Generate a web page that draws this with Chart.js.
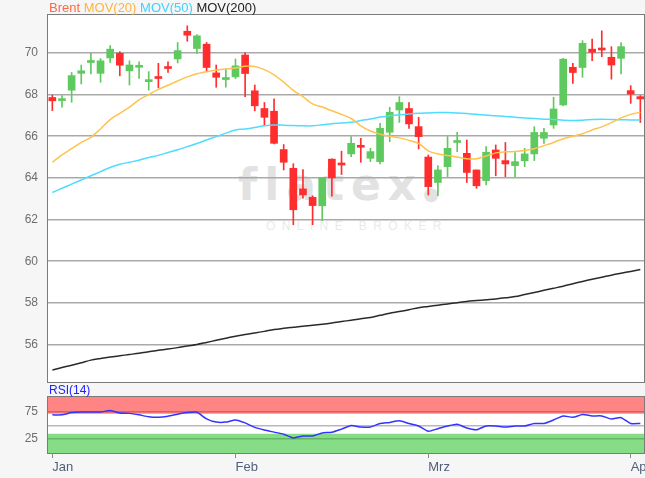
<!DOCTYPE html>
<html>
<head>
<meta charset="utf-8">
<script src="https://cdn.jsdelivr.net/npm/chart.js@4.4.1/dist/chart.umd.min.js"></script>
<style>
  body { margin: 0; background: #f6f6f6; font-family: "Liberation Sans", Arial, sans-serif; }
  #wrap { position: relative; width: 645px; height: 478px; overflow: hidden; }
  .plotbg { position: absolute; background: #fff; border: 1px solid #7b7b7b; box-sizing: border-box; }
  canvas { position: absolute; left: 0; }
  #legend { position: absolute; left: 49px; top: 0; font-size: 13px; line-height: 16px; white-space: pre; }
  #rsiTitle { position: absolute; left: 49px; top: 383px; font-size: 12px; line-height: 15px; color: #2222ff; }
  .wm { position: absolute; white-space: pre; color: #e2e2e2; }
  #wmLogo { left: 238px; top: 163px; font-family: "DejaVu Sans", sans-serif; font-size: 44px; line-height: 44px; font-weight: bold; letter-spacing: 7px; }
  #wmSub { left: 266px; top: 220px; font-size: 12px; line-height: 12px; letter-spacing: 6.4px; color: #eaeaea; }
</style>
</head>
<body>
<div id="wrap">
  <div class="plotbg" id="mainBg"></div>
  <div class="wm" id="wmLogo">flatex<span style="font-size:18px;letter-spacing:0">●</span></div>
  <div class="wm" id="wmSub">ONLINE BROKER</div>
  <canvas id="main" width="645" height="382" style="top:0"></canvas>
  <div class="plotbg" id="rsiBg"></div>
  <canvas id="rsi" width="645" height="94" style="top:384px"></canvas>
  <div id="legend"><span style="color:#ff6a45">Brent</span> <span style="color:#ffb43c">MOV(20)</span> <span style="color:#3fd2ff">MOV(50)</span> <span style="color:#222">MOV(200)</span></div>
  <div id="rsiTitle">RSI(14)</div>
</div>
<script>
const opens = [67.86, 67.71, 68.21, 69.02, 69.54, 69.02, 69.76, 69.98, 69.14, 69.31,
  68.62, 68.86, 69.33, 69.71, 71.04, 70.21, 70.42, 69.04, 68.72, 68.85,
  69.90, 68.18, 67.33, 67.20, 65.36, 64.46, 63.47, 63.07, 62.66, 64.90,
  64.66, 65.15, 65.55, 64.94, 64.78, 66.19, 67.26, 67.33, 66.46, 65.00,
  63.78, 64.54, 65.70, 65.18, 64.38, 63.87, 65.34, 64.83, 64.59, 64.82,
  65.15, 65.90, 66.54, 67.50, 69.31, 69.30, 70.18, 70.21, 69.79, 69.74,
  68.19, 67.90];
const highs = [67.98, 67.95, 69.06, 69.42, 69.98, 69.73, 70.35, 70.06, 69.62, 69.57,
  69.10, 69.50, 69.57, 70.50, 71.30, 70.88, 70.50, 69.42, 69.22, 69.71,
  70.00, 68.46, 67.62, 67.79, 65.60, 64.68, 64.40, 63.14, 64.02, 64.91,
  65.28, 65.98, 65.90, 65.42, 66.62, 67.39, 67.90, 67.62, 66.91, 65.10,
  64.59, 65.98, 66.19, 65.82, 64.38, 65.50, 65.58, 65.70, 65.22, 65.42,
  66.46, 66.38, 67.87, 69.74, 69.50, 70.59, 70.66, 71.06, 70.30, 70.50,
  68.43, 67.95];
const lows = [67.23, 67.39, 67.63, 68.51, 68.99, 68.59, 69.54, 68.90, 68.46, 68.77,
  68.21, 68.32, 69.06, 69.52, 70.56, 69.98, 69.10, 68.35, 68.35, 68.77,
  67.90, 67.22, 66.50, 65.63, 64.38, 61.75, 63.02, 61.75, 61.95, 63.12,
  64.16, 65.02, 64.75, 64.78, 64.67, 65.74, 66.66, 66.38, 65.39, 63.18,
  63.15, 64.06, 65.26, 63.78, 63.50, 63.66, 64.10, 64.06, 64.06, 64.54,
  64.83, 65.66, 66.38, 67.46, 68.54, 68.83, 69.63, 69.82, 68.74, 68.99,
  67.58, 66.66];
const closes = [67.70, 67.79, 68.91, 69.14, 69.58, 69.62, 70.18, 69.41, 69.42, 69.38,
  68.70, 68.77, 69.25, 70.11, 70.85, 70.82, 69.30, 68.83, 68.82, 69.38,
  69.01, 67.46, 66.91, 65.66, 64.75, 62.47, 63.18, 62.67, 64.02, 64.00,
  64.62, 65.66, 65.47, 65.26, 66.38, 67.15, 67.62, 66.59, 65.98, 63.58,
  64.38, 65.42, 65.78, 64.26, 63.62, 65.23, 64.94, 64.67, 64.78, 65.15,
  66.18, 66.18, 67.31, 69.70, 69.06, 70.46, 70.03, 70.14, 69.42, 70.30,
  68.02, 67.79];
const mov20 = [64.75, 65.1, 65.4, 65.7, 65.95, 66.35, 66.8, 67.1, 67.4, 67.75,
  68.0, 68.25, 68.45, 68.65, 68.85, 69.0, 69.1, 69.18, 69.23, 69.28,
  69.36, 69.35, 69.2, 68.95, 68.6, 68.2, 67.9, 67.55, 67.4, 67.22,
  67.05, 66.85, 66.5, 66.25, 66.1, 66.0, 65.92, 65.8, 65.65, 65.3,
  65.15, 65.07, 65.0, 64.92, 64.92, 65.05, 65.2, 65.25, 65.27, 65.32,
  65.4, 65.55, 65.7, 65.88, 66.0, 66.12, 66.3, 66.45, 66.65, 66.88,
  67.05, 67.15];
const mov50 = [63.3, 63.5, 63.7, 63.9, 64.1, 64.3, 64.5, 64.65, 64.75, 64.85,
  64.98, 65.08, 65.22, 65.35, 65.5, 65.65, 65.82, 65.98, 66.15, 66.3,
  66.35, 66.42, 66.5, 66.54, 66.53, 66.51, 66.5, 66.5, 66.55, 66.6,
  66.63, 66.67, 66.75, 66.83, 66.92, 66.98, 67.03, 67.07, 67.1, 67.12,
  67.14, 67.14, 67.12, 67.09, 67.05, 67.02, 66.98, 66.95, 66.91, 66.88,
  66.85, 66.82, 66.8, 66.77, 66.75, 66.77, 66.8, 66.82, 66.8, 66.79,
  66.78, 66.78];
const mov200 = [54.77, 54.9, 55.0, 55.12, 55.25, 55.33, 55.4, 55.46, 55.52, 55.58,
  55.65, 55.72, 55.78, 55.85, 55.93, 56.0, 56.1, 56.2, 56.3, 56.4,
  56.48, 56.55, 56.63, 56.72, 56.78, 56.83, 56.88, 56.92, 56.97, 57.03,
  57.1, 57.17, 57.24, 57.3, 57.4, 57.5, 57.58, 57.67, 57.77, 57.83,
  57.89, 57.95, 58.01, 58.07, 58.11, 58.15, 58.19, 58.24, 58.3, 58.4,
  58.5, 58.6, 58.7, 58.8, 58.92, 59.03, 59.13, 59.23, 59.33, 59.42,
  59.51, 59.6];
const rsi14 = [69.7, 69.7, 74, 75, 75, 75, 78, 73, 72.5, 69.7,
  66, 65, 67, 71, 74, 74.5, 62, 56, 56, 60,
  54.5, 46, 41, 37, 33, 26, 29.7, 29.7, 35.5, 36.8,
  42.7, 49.4, 46.7, 46.7, 53.3, 55.3, 58.5, 53.3, 48.6, 38.8,
  43.5, 48.6, 52, 44.7, 41.5, 48.6, 48.6, 46.7, 48.6, 48.6,
  53.3, 53.3, 60, 67.7, 65, 70.3, 67.7, 67.7, 61.8, 64.4,
  53.3, 53.3];
const monthTicks = [0, 19, 39, 60];
const monthLabels = ['Jan', 'Feb', 'Mrz', 'Apr'];
const priceTicks = [56, 58, 60, 62, 64, 66, 68, 70];
const rsiTicks = [25, 50, 75];
const rsiLabels = ['25', '', '75'];

const X_MIN = -0.45, X_MAX = 61.38;
const UP = '#5ec95e', DOWN = '#ff2d2d';
const font = { family: '"Liberation Sans", Arial, sans-serif', size: 12 };

const idx = opens.map((_, i) => i);
const candleColor = ctx => closes[ctx.dataIndex] >= opens[ctx.dataIndex] ? UP : DOWN;

// keep the value axis 48px wide and stop it from padding the plot vertically
function fixedY(scale) {
  scale.width = 48;
  scale.paddingTop = 0;
  scale.paddingBottom = 0;
}

const mainChart = new Chart(document.getElementById('main'), {
  type: 'bar',
  data: {
    datasets: [
      { type: 'line', data: idx.map(i => ({ x: i, y: mov20[i] })), borderColor: '#ffc24d', borderWidth: 1.5, pointRadius: 0, tension: 0.3, order: 0 },
      { type: 'line', data: idx.map(i => ({ x: i, y: mov50[i] })), borderColor: '#4fdcff', borderWidth: 1.5, pointRadius: 0, tension: 0.3, order: 0 },
      { type: 'line', data: idx.map(i => ({ x: i, y: mov200[i] })), borderColor: '#2a2a2a', borderWidth: 1.5, pointRadius: 0, tension: 0.3, order: 0 },
      { data: idx.map(i => ({ x: i, y: [opens[i], closes[i]] })), backgroundColor: candleColor, barThickness: 7, minBarLength: 2, grouped: false, order: 1 },
      { data: idx.map(i => ({ x: i, y: [lows[i], highs[i]] })), backgroundColor: candleColor, barThickness: 1, grouped: false, order: 2 },
    ],
  },
  options: {
    responsive: false,
    animation: false,
    layout: { padding: { top: 15, right: 1, left: 0, bottom: 0 } },
    plugins: { legend: { display: false }, tooltip: { enabled: false } },
    scales: {
      x: { type: 'linear', min: X_MIN, max: X_MAX, offset: false, display: false },
      y: {
        min: 54.2, max: 71.82,
        afterFit: fixedY,
        afterBuildTicks: s => { s.ticks = priceTicks.map(v => ({ value: v })); },
        grid: { color: '#a9a9a9', lineWidth: 1.5, drawTicks: false },
        border: { display: false },
        ticks: { color: '#6e6e6e', font, padding: 10 },
      },
    },
  },
});

const rsiChart = new Chart(document.getElementById('rsi'), {
  type: 'line',
  data: {
    datasets: [
      { data: idx.map(i => ({ x: i, y: rsi14[i] })), borderColor: '#3333ff', borderWidth: 1.5, pointRadius: 0, tension: 0.2, order: 0 },
      { data: [{ x: X_MIN, y: 103.5 }, { x: X_MAX, y: 103.5 }], borderWidth: 0, pointRadius: 0, fill: { value: 72 }, backgroundColor: 'rgba(255,0,0,0.48)', order: 2 },
      { data: [{ x: X_MIN, y: -2.5 }, { x: X_MAX, y: -2.5 }], borderWidth: 0, pointRadius: 0, fill: { value: 33.8 }, backgroundColor: 'rgba(0,180,0,0.47)', order: 2 },
    ],
  },
  options: {
    responsive: false,
    animation: false,
    layout: { padding: { top: 13, right: 1, left: 0, bottom: 0 } },
    plugins: { legend: { display: false }, tooltip: { enabled: false } },
    scales: {
      x: {
        type: 'linear', min: X_MIN, max: X_MAX, offset: false,
        afterBuildTicks: s => { s.ticks = monthTicks.map(v => ({ value: v })); },
        afterFit: s => { s.height = 25; s.paddingLeft = 0; s.paddingRight = 0; },
        grid: { drawOnChartArea: false, tickLength: 5, color: '#8a8a8a' },
        border: { display: false },
        ticks: {
          color: '#51607a', font: { family: font.family, size: 13 }, padding: 2, align: 'start',
          maxRotation: 0, autoSkip: false,
          callback: v => monthLabels[monthTicks.indexOf(v)],
        },
      },
      y: {
        min: -2.5, max: 103.5,
        afterFit: fixedY,
        afterBuildTicks: s => { s.ticks = rsiTicks.map(v => ({ value: v })); },
        grid: { color: 'rgba(0,0,0,0.28)', lineWidth: 1.5, drawTicks: false },
        border: { display: false },
        ticks: { color: '#6e6e6e', font, padding: 10, callback: v => rsiLabels[rsiTicks.indexOf(v)] },
      },
    },
  },
});

function placeBg(chart, el, top) {
  const a = chart.chartArea;
  el.style.left = (a.left - 1) + 'px';
  el.style.top = (top + a.top - 1) + 'px';
  el.style.width = (a.right - a.left + 2) + 'px';
  el.style.height = (a.bottom - a.top + 2) + 'px';
}
placeBg(mainChart, document.getElementById('mainBg'), 0);
placeBg(rsiChart, document.getElementById('rsiBg'), 384);
</script>
</body>
</html>
